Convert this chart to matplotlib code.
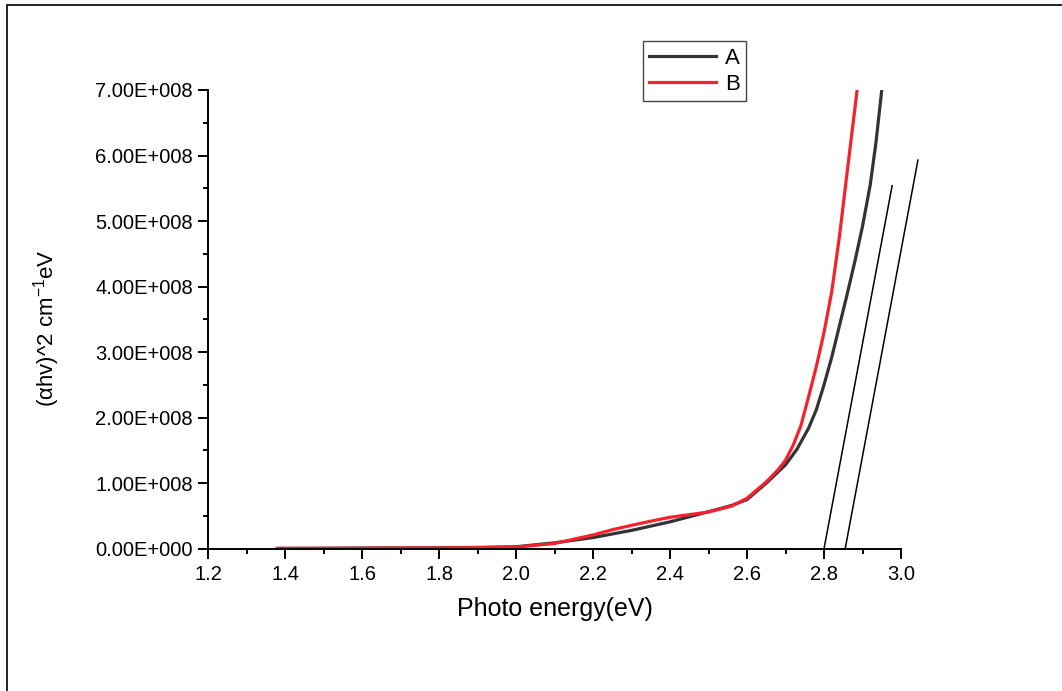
import matplotlib
matplotlib.use("Agg")
import matplotlib.pyplot as plt
from matplotlib.patches import Rectangle
from matplotlib.ticker import MultipleLocator, FuncFormatter

plt.rcParams['font.family'] = ['Liberation Sans', 'DejaVu Sans']
plt.rcParams['mathtext.default'] = 'regular'

# photon energy (eV) and (ahv)^2 in units of 1e8
a_x = [1.38, 1.5, 1.6, 1.7, 1.8, 1.9, 2.0, 2.1, 2.2, 2.3, 2.4, 2.5, 2.56, 2.6,
       2.65, 2.70, 2.73, 2.76, 2.78, 2.80, 2.82, 2.84, 2.86, 2.88, 2.90, 2.92, 2.935, 2.95]
a_y = [0.005, 0.007, 0.01, 0.012, 0.015, 0.02, 0.03, 0.09, 0.17, 0.28, 0.41, 0.565, 0.66, 0.75,
       1.0, 1.28, 1.52, 1.84, 2.12, 2.5, 2.92, 3.4, 3.88, 4.38, 4.92, 5.55, 6.2, 7.0]

b_x = [1.38, 1.5, 1.6, 1.7, 1.8, 1.9, 2.0, 2.1, 2.2, 2.25, 2.31, 2.35, 2.4, 2.45, 2.5,
       2.56, 2.6, 2.65, 2.68, 2.70, 2.72, 2.74, 2.76, 2.78, 2.80, 2.82, 2.84, 2.86, 2.886]
b_y = [0.005, 0.006, 0.008, 0.01, 0.012, 0.016, 0.025, 0.08, 0.21, 0.29, 0.37, 0.42, 0.48, 0.52, 0.56,
       0.65, 0.77, 1.02, 1.2, 1.35, 1.58, 1.88, 2.32, 2.78, 3.3, 3.92, 4.76, 5.74, 7.0]

# linear fits (band gap extrapolation)
fit1_x = [2.80, 2.977]
fit1_y = [0.0, 5.54]
fit2_x = [2.855, 3.044]
fit2_y = [0.0, 5.93]

scale = 1e8

fig = plt.figure(figsize=(10.62, 6.91), dpi=100)
ax = fig.add_axes([0.1959, 0.2059, 0.6525, 0.6639])

ax.plot(a_x, [v * scale for v in a_y], color='#333333', lw=2.3, label='A')
ax.plot(b_x, [v * scale for v in b_y], color='#f5222d', lw=2.3, label='B')
ax.plot(fit1_x, [v * scale for v in fit1_y], color='black', lw=1.1, clip_on=False)
ax.plot(fit2_x, [v * scale for v in fit2_y], color='black', lw=1.1, clip_on=False)

ax.set_xlim(1.2, 3.0)
ax.set_ylim(0, 7e8)
ax.xaxis.set_major_locator(MultipleLocator(0.2))
ax.xaxis.set_minor_locator(MultipleLocator(0.1))
ax.yaxis.set_major_locator(MultipleLocator(1e8))
ax.yaxis.set_minor_locator(MultipleLocator(0.5e8))


def sci(v, pos):
    if abs(v) < 1:
        return '0.00E+000'
    e = 0
    m = v
    while abs(m) >= 10:
        m /= 10
        e += 1
    return '%.2fE+%03d' % (m, e)


ax.yaxis.set_major_formatter(FuncFormatter(sci))
ax.xaxis.set_major_formatter(FuncFormatter(lambda v, p: '%.1f' % v))

for s in ['top', 'right']:
    ax.spines[s].set_visible(False)
for s in ['left', 'bottom']:
    ax.spines[s].set_linewidth(1.4)

ax.tick_params(which='major', direction='out', length=7, width=1.4, labelsize=14.5, pad=4)
ax.tick_params(which='minor', direction='out', length=3.5, width=1.4)
ax.tick_params(axis='x', which='major', pad=5)

ax.set_xlabel('Photo energy(eV)', fontsize=18, labelpad=9)
ax.set_ylabel('(αhv)^2 cm$^{-1}$eV', fontsize=16)
ax.yaxis.set_label_coords(-0.211, 0.48)

ax.legend(loc='upper left', bbox_to_anchor=(0.605, 0.94), bbox_transform=fig.transFigure,
          fontsize=16, handlelength=3.0, labelspacing=0.2, borderpad=0.3, borderaxespad=0,
          handletextpad=0.4, fancybox=False, framealpha=1, edgecolor='#444444')

# outer frame around the figure
fig.patches.append(Rectangle((7 / 1062, -0.1), 1.2, 1.1 - 5 / 691, transform=fig.transFigure,
                             fill=False, edgecolor='#222222', lw=1.4))

fig.savefig('out.png', dpi=100)
